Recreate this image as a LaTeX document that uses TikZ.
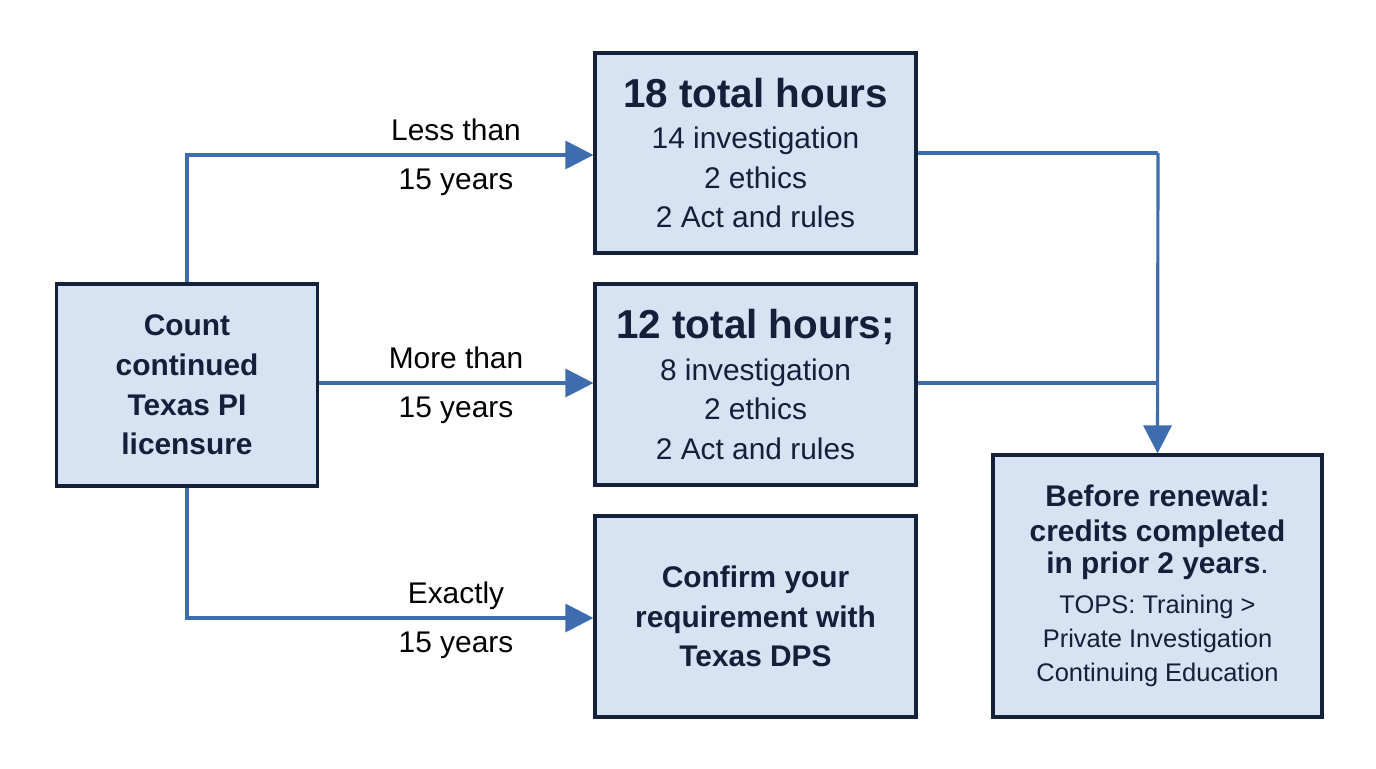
\documentclass[tikz,border=0pt]{standalone}
\usepackage{fontspec}
\setmainfont{Liberation Sans}
\usetikzlibrary{arrows.meta}
\definecolor{boxfill}{HTML}{D5E3F2}
\definecolor{boxline}{HTML}{15213A}
\definecolor{arr}{HTML}{3D6DAE}
\definecolor{txt}{HTML}{14203A}
\newcommand{\bigf}{\bfseries\fontsize{23}{26}\selectfont}
\newcommand{\regf}{\mdseries\fontsize{17}{22.5}\selectfont}
\newcommand{\smf}{\mdseries\fontsize{14.5}{19.5}\selectfont}
\newcommand{\bdf}{\bfseries\fontsize{17}{22.5}\selectfont}
\begin{document}
\begin{tikzpicture}[x=0.02cm,y=-0.02cm,
  box/.style={draw=boxline,fill=boxfill,line width=1.8pt,inner sep=0pt,align=center,text=txt},
  con/.style={draw=arr,line width=1.8pt},
  arw/.style={con,-{Triangle[length=16pt,width=16pt]}},
  lab/.style={font=\fontsize{17}{28}\selectfont,align=center,text=black}]
\useasboundingbox (0,0) rectangle (1376,768);
\node[box,minimum width=261*0.02cm,minimum height=202*0.02cm,font=\bdf] (L) at (187,385) {Count\\continued\\Texas PI\\licensure};
\node[box,minimum width=321*0.02cm,minimum height=200*0.02cm,font=\regf] (T) at (755.5,153) {\bigf 18 total hours\\[1pt]14 investigation\\2 ethics\\2 Act and rules};
\node[box,minimum width=321*0.02cm,minimum height=201*0.02cm,font=\regf] (M) at (755.5,384.5) {\bigf 12 total hours;\\[1pt]8 investigation\\2 ethics\\2 Act and rules};
\node[box,minimum width=321*0.02cm,minimum height=201*0.02cm,font=\bdf] (B) at (755.5,616.5) {Confirm your\\requirement with\\Texas DPS};
\node[box,minimum width=329*0.02cm,minimum height=262*0.02cm,font=\smf] (R) at (1157.5,586) {\bdf Before renewal:\\\bdf credits completed\\[-1pt]\bdf in prior 2 years\mdseries.\\[3pt]TOPS: Training >\\Private Investigation\\Continuing Education};
\coordinate (j1) at (187,155);
\coordinate (j3) at (187,618);
\coordinate (c1) at (1158,153);
\coordinate (c2) at (1158,383);
\draw[arw] (L.north) -- (j1) -- (T.west |- j1);
\draw[arw] (L.east |- 0,383) -- (M.west |- 0,383);
\draw[arw] (L.south) -- (j3) -- (B.west |- j3);
\draw[con] (T.east |- c1) -- (c1);
\draw[con] (M.east |- c2) -- (c2);
\draw[arw] (c1) -- (R.north);
\node[lab] at (456,157) {Less than\\15 years};
\node[lab] at (456,385) {More than\\15 years};
\node[lab] at (456,620) {Exactly\\15 years};
\end{tikzpicture}
\end{document}
